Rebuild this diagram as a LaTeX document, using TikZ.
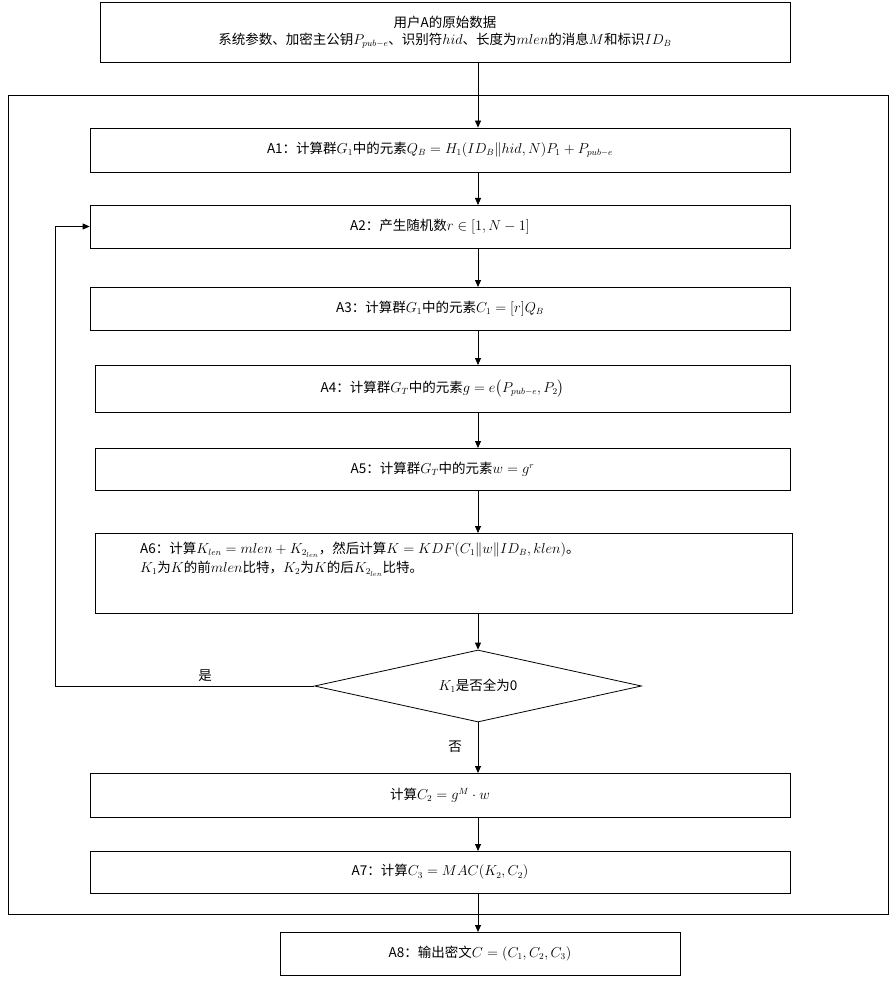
\documentclass[tikz,border=0pt]{standalone}
\usepackage{amsmath}
\usepackage{fontspec}
\setmainfont{Noto Sans CJK SC}
\usetikzlibrary{shapes.geometric,arrows.meta}
\begin{document}
\begin{tikzpicture}[x=1pt,y=-1pt,
  fs/.style={font=\fontsize{13.5}{17}\selectfont},
  bx/.style={draw,line width=0.8pt,inner sep=0pt,fs},
  ar/.style={-{Triangle[length=7pt,width=6pt]},line width=0.8pt}]
\useasboundingbox (0,0) rectangle (895,1000);
\draw[line width=0.8pt] (8,95) rectangle (888,914);
\node[bx,minimum width=690pt,minimum height=60pt,align=center] (top) at (445,32) {用户A的原始数据\\系统参数、加密主公钥$P_{pub-e}$、识别符$hid$、长度为$mlen$的消息$M$和标识$ID_B$};
\node[bx,minimum width=700pt,minimum height=44pt] (a1) at (440,150) {A1：计算群$G_1$中的元素$Q_B=H_1(ID_B\|hid,N)P_1+P_{pub-e}$};
\node[bx,minimum width=700pt,minimum height=43pt] (a2) at (440,226.5) {A2：产生随机数$r\in[1,N-1]$};
\node[bx,minimum width=700pt,minimum height=43pt] (a3) at (440,308.5) {A3：计算群$G_1$中的元素$C_1=[r]Q_B$};
\node[bx,minimum width=695pt,minimum height=47pt] (a4) at (442.5,388.5) {A4：计算群$G_T$中的元素$g=e\bigl(P_{pub-e},P_2\bigr)$};
\node[bx,minimum width=695pt,minimum height=42pt] (a5) at (442.5,469) {A5：计算群$G_T$中的元素$w=g^r$};
\node[bx,minimum width=697pt,minimum height=80pt] (a6) at (443.5,573) {};
\node[fs,align=left,anchor=north west,inner sep=0pt] (a6t) at (140,542) {A6：计算$K_{len}=mlen+K_{2_{len}}$，然后计算$K=KDF(C_1\|w\|ID_B,klen)$。\\[2pt]$K_1$为$K$的前$mlen$比特，$K_2$为$K$的后$K_{2_{len}}$比特。};
\node[draw,line width=0.8pt,diamond,aspect=4.55,minimum width=327pt,minimum height=72pt,inner sep=0pt,fs] (d) at (478,686) {$K_1$是否全为0};
\node[bx,minimum width=700pt,minimum height=44pt] (c2) at (440,795) {计算$C_2=g^M\cdot w$};
\node[bx,minimum width=700pt,minimum height=42pt] (a7) at (440,872) {A7：计算$C_3=MAC(K_2,C_2)$};
\node[bx,minimum width=400pt,minimum height=43pt] (a8) at (480,953.5) {A8：输出密文$C=(C_1,C_2,C_3)$};
\coordinate (l1) at (55,686);
\coordinate (l2) at (55,226.5);
\draw[ar] (top.south -| 478,0) -- (a1.north -| 478,0);
\draw[ar] (478,172) -- (478,205);
\draw[ar] (478,248) -- (478,287);
\draw[ar] (478,330) -- (478,365);
\draw[ar] (478,412) -- (478,448);
\draw[ar] (478,490) -- (478,533);
\draw[ar] (478,613) -- (d.north);
\draw[ar] (d.south) -- (478,773);
\draw[ar] (478,817) -- (478,851);
\draw[ar] (478,893) -- (478,932);
\draw[ar] (d.west) -- (l1) -- (l2) -- (a2.west);
\node[fs] (yes) at (205,676) {是};
\node[fs] (no) at (455,747) {否};
\end{tikzpicture}
\end{document}
